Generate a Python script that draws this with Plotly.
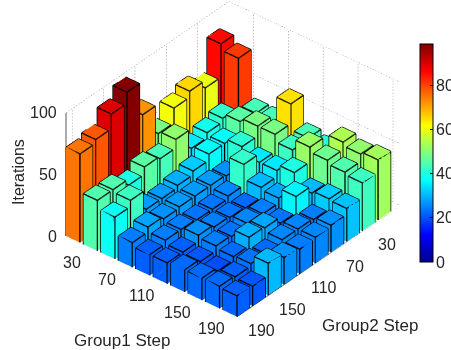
import numpy as np
import plotly.graph_objects as go

group1_steps = [10, 30, 50, 70, 90, 110, 130, 150, 170, 190]
group2_steps = [190, 170, 150, 130, 110, 90, 70, 50, 30, 10]
group1_ticks = [30, 70, 110, 150, 190]
group2_ticks = [30, 70, 110, 150, 190]
z_ticks = [0, 50, 100]
colorbar_ticks = [0, 20, 40, 60, 80]
iterations = [
    [72, 75, 87, 96, 69, 45, 57, 62, 56, 83],
    [41, 41, 36, 42, 40, 47, 31, 35, 38, 78],
    [34, 39, 23, 23, 25, 28, 33, 33, 42, 40],
    [20, 24, 22, 23, 23, 23, 22, 37, 45, 40],
    [17, 20, 20, 19, 19, 21, 38, 31, 45, 61],
    [17, 17, 22, 20, 19, 18, 26, 31, 39, 40],
    [18, 16, 20, 19, 21, 20, 24, 36, 48, 37],
    [18, 15, 18, 25, 24, 19, 32, 26, 44, 50],
    [18, 17, 19, 18, 21, 21, 20, 28, 41, 47],
    [17, 16, 26, 22, 20, 21, 22, 27, 39, 49],
]

BAR = 16
X_RANGE = [-10, 198]
Y_RANGE = [2, 198]
Z_RANGE = [0, 100]
jet = [[0, "rgb(0,0,143)"], [0.125, "rgb(0,0,255)"], [0.375, "rgb(0,255,255)"],
       [0.625, "rgb(255,255,0)"], [0.875, "rgb(255,0,0)"], [1, "rgb(128,0,0)"]]

vx, vy, vz, ti, tj, tk, cell = [], [], [], [], [], [], []
ex, ey, ez = [], [], []
faces = [(0,1,2),(0,2,3),(4,5,6),(4,6,7),(0,1,5),(0,5,4),(1,2,6),(1,6,5),(2,3,7),(2,7,6),(3,0,4),(3,4,7)]
for a, g1 in enumerate(group1_steps):
    for b, g2 in enumerate(group2_steps):
        h = iterations[a][b]
        n = len(vx)
        x0, x1, y0, y1 = g2 - BAR/2, g2 + BAR/2, g1 - BAR/2, g1 + BAR/2
        vx += [x0, x1, x1, x0, x0, x1, x1, x0]
        vy += [y0, y0, y1, y1, y0, y0, y1, y1]
        vz += [0, 0, 0, 0, h, h, h, h]
        for f in faces:
            ti.append(n + f[0]); tj.append(n + f[1]); tk.append(n + f[2])
            cell.append(h)
        loop = [(x0,y0),(x1,y0),(x1,y1),(x0,y1),(x0,y0)]
        for (p, q) in loop:
            ex.append(p); ey.append(q); ez.append(h)
        ex.append(None); ey.append(None); ez.append(None)
        for (p, q) in loop[:4]:
            ex += [p, p, None]; ey += [q, q, None]; ez += [0, h, None]

fig = go.Figure()
fig.add_trace(go.Mesh3d(x=vx, y=vy, z=vz, i=ti, j=tj, k=tk, intensity=cell, intensitymode="cell",
                        colorscale=jet, cmin=-5.5, cmax=96.6, showscale=False, flatshading=True,
                        lighting=dict(ambient=1, diffuse=0, specular=0, roughness=1, fresnel=0),
                        hoverinfo="skip"))
fig.add_trace(go.Scatter3d(x=ex, y=ey, z=ez, mode="lines", line=dict(color="black", width=2.6),
                           hoverinfo="skip", showlegend=False))

# dotted wall lines: short solid dashes along each wall line
gx, gy, gz = [], [], []
def dotted(p, q, n):
    for s in range(n):
        a0, a1 = s / n, (s + 0.5) / n
        for arr, u, v in ((gx, p[0], q[0]), (gy, p[1], q[1]), (gz, p[2], q[2])):
            arr += [u + (v - u) * a0, u + (v - u) * a1, None]

for t in group2_ticks:
    dotted((t, Y_RANGE[0], 0), (t, Y_RANGE[0], 100), 40)
for t in group1_ticks:
    dotted((X_RANGE[0], t, 0), (X_RANGE[0], t, 100), 40)
for z in z_ticks:
    dotted((X_RANGE[1], Y_RANGE[0], z), (X_RANGE[0], Y_RANGE[0], z), 65)
    dotted((X_RANGE[0], Y_RANGE[0], z), (X_RANGE[0], Y_RANGE[1], z), 62)
fig.add_trace(go.Scatter3d(x=gx, y=gy, z=gz, mode="lines",
                           line=dict(color="#a0a0a0", width=1.2),
                           hoverinfo="skip", showlegend=False))

ax, ay, az = [X_RANGE[1], X_RANGE[1], None], [Y_RANGE[0], Y_RANGE[0], None], [0, 100, None]
ax += [X_RANGE[1], X_RANGE[1], X_RANGE[0], None]
ay += [Y_RANGE[0], Y_RANGE[1], Y_RANGE[1], None]
az += [0, 0, 0, None]
for t in group1_ticks:
    ax += [X_RANGE[1], X_RANGE[1] + 4, None]; ay += [t, t, None]; az += [0, 0, None]
for t in group2_ticks:
    ax += [t, t, None]; ay += [Y_RANGE[1], Y_RANGE[1] + 4, None]; az += [0, 0, None]
for z in z_ticks:
    ax += [X_RANGE[1], X_RANGE[1], None]; ay += [Y_RANGE[0], Y_RANGE[0] - 4, None]; az += [z, z, None]
fig.add_trace(go.Scatter3d(x=ax, y=ay, z=az, mode="lines", line=dict(color="#222222", width=1.5),
                           hoverinfo="skip", showlegend=False))

fig.add_trace(go.Scatter3d(x=[X_RANGE[0]], y=[Y_RANGE[0]], z=[0], mode="markers",
                           marker=dict(size=1, opacity=0, color=[0], cmin=0, cmax=99, colorscale=jet,
                                       showscale=True,
                                       colorbar=dict(x=420/451, xanchor="left", y=1-44/350, yanchor="top",
                                                     thickness=13, thicknessmode="pixels",
                                                     len=218, lenmode="pixels", xpad=0, ypad=0,
                                                     outlinecolor="black", outlinewidth=1,
                                                     tickvals=colorbar_ticks, ticks="inside", ticklen=3,
                                                     tickcolor="black", showticklabels=False)),
                           hoverinfo="skip", showlegend=False))

font = dict(family="Liberation Sans", size=16, color="#262626")
title_font = dict(family="Liberation Sans", size=17, color="#262626")
annots = []
for t in group1_ticks:
    annots.append(dict(x=X_RANGE[1], y=t, z=0, text=str(t), showarrow=False, xshift=-18, yshift=-15, font=font))
for t in group2_ticks:
    annots.append(dict(x=t, y=Y_RANGE[1], z=0, text=str(t), showarrow=False, xshift=18, yshift=-18, font=font))
for z in z_ticks:
    annots.append(dict(x=X_RANGE[1], y=Y_RANGE[0], z=z, text=str(z), showarrow=False, xanchor="right",
                       xshift=-7, yshift=0, font=font))

paper_annots = [
    dict(x=18/451, y=1-172/350, xref="paper", yref="paper", text="Iterations", textangle=-90,
         xanchor="center", yanchor="middle", showarrow=False, font=font),
    dict(x=122/451, y=1-340/350, xref="paper", yref="paper", text="Group1 Step",
         xanchor="center", yanchor="middle", showarrow=False, font=title_font),
    dict(x=370/451, y=1-325/350, xref="paper", yref="paper", text="Group2 Step",
         xanchor="center", yanchor="middle", showarrow=False, font=title_font),
]
for t in colorbar_ticks:
    paper_annots.append(dict(x=434/451, y=1-(262-218*t/99)/350, xref="paper", yref="paper", text=str(t),
                             xanchor="left", yanchor="middle", showarrow=False, font=font))

hidden = dict(visible=False, showgrid=False, zeroline=False, showticklabels=False, showspikes=False)
fig.update_layout(
    width=451, height=350, margin=dict(l=0, r=0, t=0, b=0, autoexpand=False),
    paper_bgcolor="white", showlegend=False,
    scene=dict(
        domain=dict(x=[0.033, 1], y=[0.074, 1]),
        xaxis=dict(range=X_RANGE, **hidden),
        yaxis=dict(range=Y_RANGE, **hidden),
        zaxis=dict(range=Z_RANGE, **hidden),
        aspectmode="manual", aspectratio=dict(x=1.575, y=1.372, z=0.924),
        camera=dict(projection=dict(type="orthographic"), up=dict(x=0, y=0, z=1),
                    center=dict(x=0, y=0, z=-0.022), eye=dict(x=1.286, y=1.068, z=1.132)),
        annotations=annots,
    ),
    annotations=paper_annots,
)
fig.write_html("out.html", config=dict(displayModeBar=False),
               post_script="document.body.style.margin='0';document.body.style.overflow='hidden';")
